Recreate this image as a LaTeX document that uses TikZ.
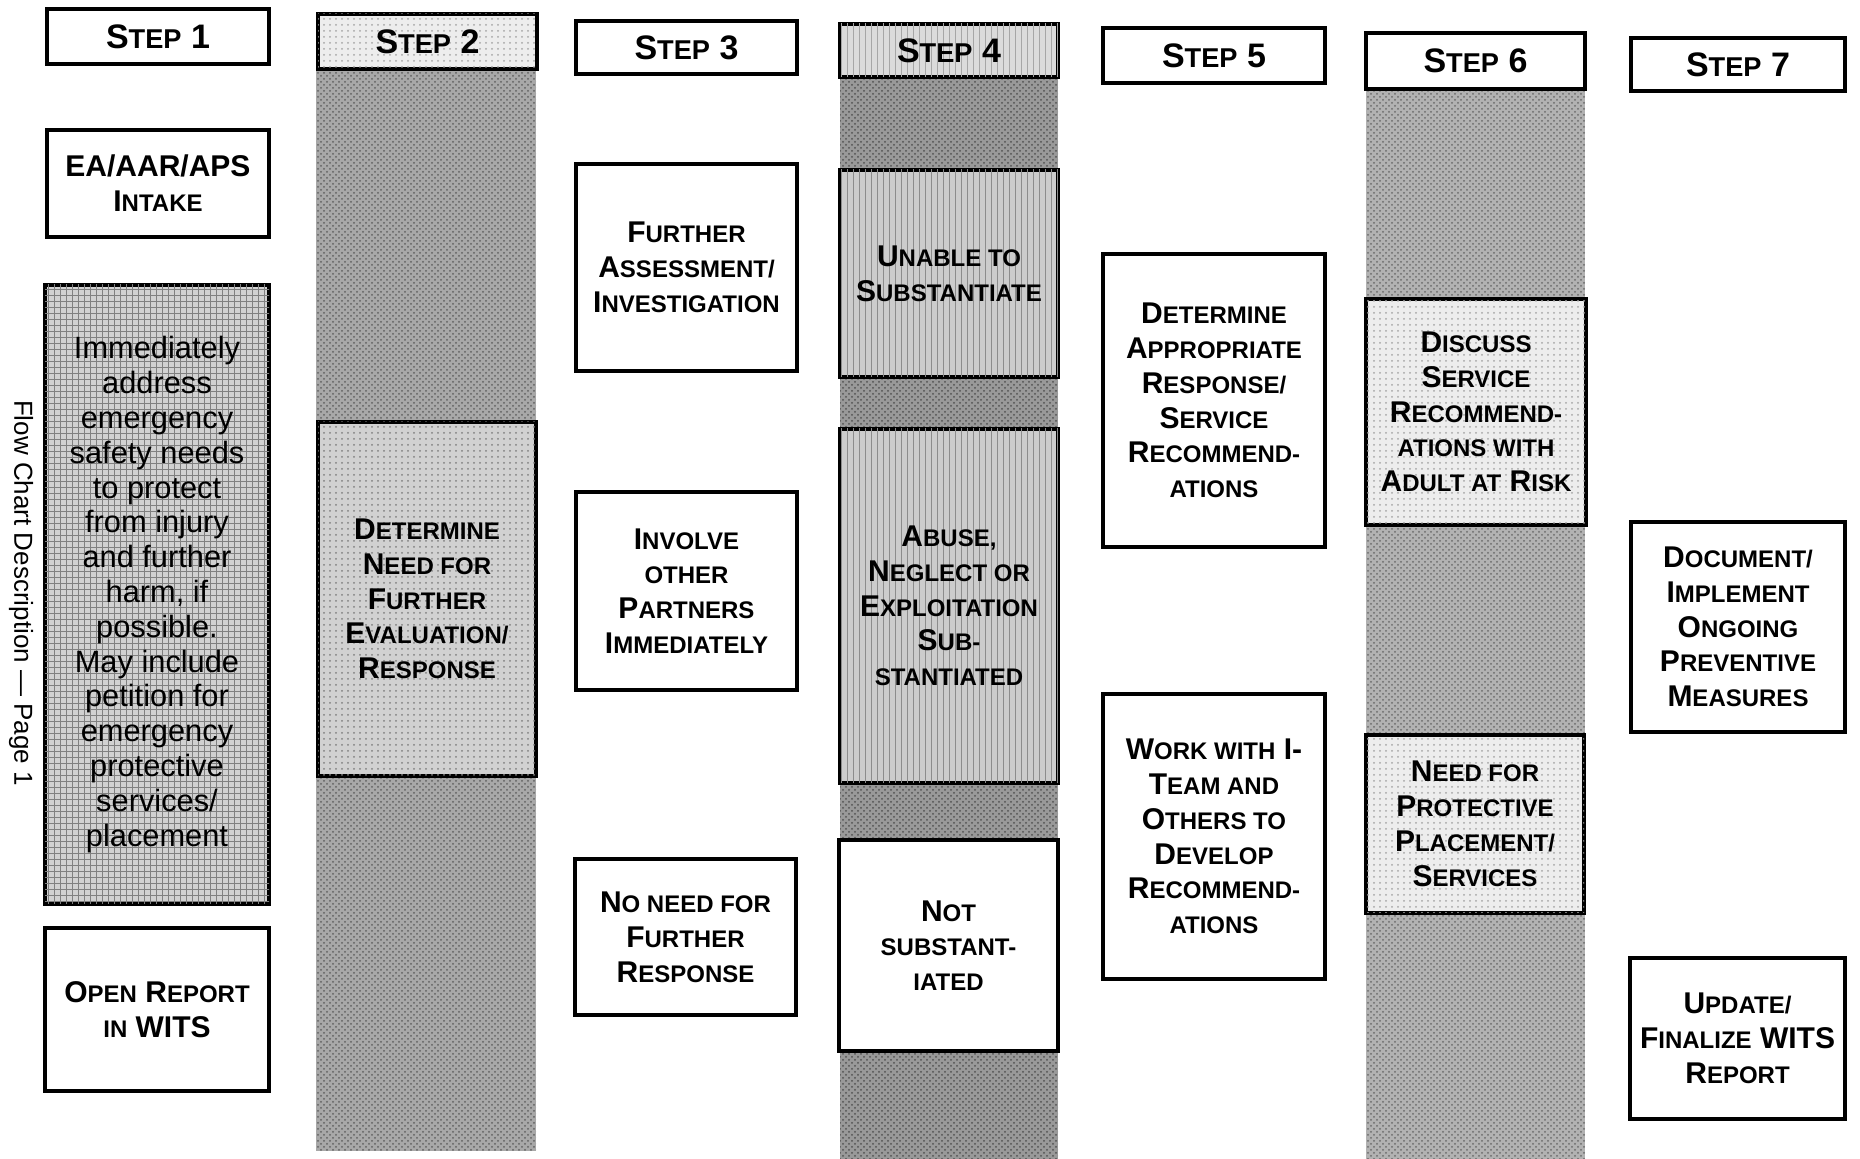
\documentclass[tikz,border=0pt]{standalone}
\usepackage{fontspec}
\setmainfont{Liberation Sans}
\newfontfamily\scf[Scale=0.8]{Liberation Sans}
\newcommand\smc[1]{{\scf #1}}
\usetikzlibrary{patterns}
\begin{document}
\begin{tikzpicture}[x=0.5pt,y=-0.5pt,
  box/.style={draw=black, line width=1.7pt, inner sep=0pt, align=center, fill=white,
    font=\bfseries\fontsize{15}{17.4}\selectfont},
  head/.style={box, font=\bfseries\fontsize{17}{20}\selectfont},
  sz/.style 2 args={minimum width=#1pt, minimum height=#2pt},
  dotbox/.style={fill=black!7, postaction={pattern=dots, pattern color=black!35}},
  stripebox/.style={fill=black!20, postaction={pattern=vertical lines, pattern color=black!45}},
  gridbox/.style={fill=black!18, postaction={pattern=grid, pattern color=black!50}},
  speckbox/.style={fill=black!18, postaction={pattern=dots, pattern color=black!50}},
  colshade/.style={fill=black!34, postaction={pattern=crosshatch dots, pattern color=black!62}},
  colshadedark/.style={fill=black!40, postaction={pattern=crosshatch dots, pattern color=black!68}},
  colshadelight/.style={fill=black!30, postaction={pattern=crosshatch dots, pattern color=black!58}}]
\useasboundingbox (0,0) rectangle (1860,1159);

% shaded columns
\path[colshade] (316,69) rectangle (536,1151);
\path[colshadedark] (840,77) rectangle (1058,1159);
\path[colshadelight] (1366,89) rectangle (1585,1159);

% headers
\node[head, sz={111}{27.5}] (h1) at (158,36.5) {S\smc{TEP} 1};
\node[head, dotbox, sz={109.5}{27.5}] (h2) at (427.5,41.5) {S\smc{TEP} 2};
\node[head, sz={110.5}{26.5}] (h3) at (686.5,47.5) {S\smc{TEP} 3};
\node[head, fill=black!14, postaction={pattern=vertical lines, pattern color=black!35}, sz={109}{26.5}] (h4) at (949,50.5) {S\smc{TEP} 4};
\node[head, sz={111}{27.5}] (h5) at (1214,55.5) {S\smc{TEP} 5};
\node[head, sz={109.5}{28}] (h6) at (1475.5,61) {S\smc{TEP} 6};
\node[head, sz={107}{26.5}] (h7) at (1738,64.5) {S\smc{TEP} 7};

% step 1
\node[box, sz={111}{53.5}] (ea) at (158,183.5) {EA/AAR/APS\\I\smc{NTAKE}};
\node[box, gridbox, font=\fontsize{15.4}{17.4}\selectfont, sz={112}{309.5}] (imm) at (157,594.5)
  {Immediately\\address\\emergency\\safety needs\\to protect\\from injury\\and further\\harm, if\\possible.\\May include\\petition for\\emergency\\protective\\services/\\placement};
\node[box, sz={112}{81.5}] (open) at (157,1009.5) {O\smc{PEN} R\smc{EPORT}\\\smc{IN} WITS};

% step 2
\node[box, speckbox, sz={109}{177}] (need) at (427,599) {D\smc{ETERMINE}\\N\smc{EED FOR}\\F\smc{URTHER}\\E\smc{VALUATION/}\\R\smc{ESPONSE}};

% step 3
\node[box, sz={110.5}{103.5}] (fa) at (686.5,267.5) {F\smc{URTHER}\\A\smc{SSESSMENT/}\\I\smc{NVESTIGATION}};
\node[box, sz={110.5}{99}] (inv) at (686.5,591) {I\smc{NVOLVE}\\\smc{OTHER}\\P\smc{ARTNERS}\\I\smc{MMEDIATELY}};
\node[box, sz={110.5}{78}] (nn) at (685.5,937) {N\smc{O NEED FOR}\\F\smc{URTHER}\\R\smc{ESPONSE}};

% step 4
\node[box, stripebox, sz={109}{103.5}] (un) at (949,273.5) {U\smc{NABLE TO}\\S\smc{UBSTANTIATE}};
\node[box, stripebox, sz={109}{177}] (ab) at (949,606) {A\smc{BUSE,}\\N\smc{EGLECT OR}\\E\smc{XPLOITATION}\\S\smc{UB-}\\\smc{STANTIATED}};
\node[box, sz={109.5}{105.5}] (ns) at (948.5,945.5) {N\smc{OT}\\\smc{SUBSTANT-}\\\smc{IATED}};

% step 5
\node[box, sz={111}{146.5}] (da) at (1214,400.5) {D\smc{ETERMINE}\\A\smc{PPROPRIATE}\\R\smc{ESPONSE/}\\S\smc{ERVICE}\\R\smc{ECOMMEND-}\\\smc{ATIONS}};
\node[box, sz={111}{142.5}] (wk) at (1214,836.5) {W\smc{ORK WITH} I-\\T\smc{EAM AND}\\O\smc{THERS TO}\\D\smc{EVELOP}\\R\smc{ECOMMEND-}\\\smc{ATIONS}};

% step 6
\node[box, dotbox, sz={110}{113}] (ds) at (1476,412) {D\smc{ISCUSS}\\S\smc{ERVICE}\\R\smc{ECOMMEND-}\\\smc{ATIONS WITH}\\A\smc{DULT AT} R\smc{ISK}};
\node[box, dotbox, sz={109}{89}] (np) at (1475,824) {N\smc{EED FOR}\\P\smc{ROTECTIVE}\\P\smc{LACEMENT/}\\S\smc{ERVICES}};

% step 7
\node[box, sz={107}{105}] (doc) at (1738,627) {D\smc{OCUMENT/}\\I\smc{MPLEMENT}\\O\smc{NGOING}\\P\smc{REVENTIVE}\\M\smc{EASURES}};
\node[box, sz={107.5}{80.5}] (up) at (1737.5,1038.5) {U\smc{PDATE/}\\F\smc{INALIZE} WITS\\R\smc{EPORT}};

% side label
\node[rotate=-90, font=\fontsize{13}{15}\selectfont] (side) at (21,593) {Flow Chart Description — Page 1};
\end{tikzpicture}
\end{document}
